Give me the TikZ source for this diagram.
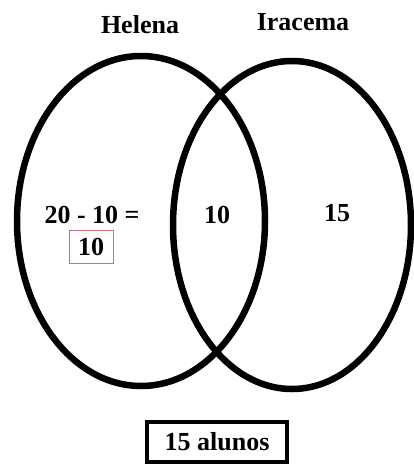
\documentclass[tikz,border=0pt]{standalone}
\usepackage{fontspec}
\setmainfont{Liberation Serif}
\usetikzlibrary{shapes.geometric}
\definecolor{boxred}{RGB}{205,110,120}
\begin{document}
\begin{tikzpicture}[x=1pt,y=-1pt,
  venn/.style={draw=black,line width=6.5pt,ellipse,inner sep=0pt,outer sep=0pt},
  lbl/.style={font=\fontsize{26}{29}\selectfont\bfseries,inner sep=0pt},
  redbox/.style={lbl,draw=boxred,line width=0.8pt,minimum width=44pt,minimum height=33pt},
  totbox/.style={lbl,draw=black,line width=3.2pt,minimum width=140pt,minimum height=40pt}]
\fill[white] (0,0) rectangle (414,466);
\useasboundingbox (0,0) rectangle (414,466);
\node[venn,minimum width=248pt,minimum height=330pt] (helena) at (141,221) {};
\node[venn,minimum width=238pt,minimum height=328pt] (iracema) at (292,225) {};
\node[lbl] (hname) at (140,25) {Helena};
\node[lbl] (iname) at (303,22) {Iracema};
\node[lbl] (calc) at (92,215) {20 - 10 =};
\node[redbox] (res) at (91,247) {10};
\node[lbl] (inter) at (217,215) {10};
\node[lbl] (only) at (337,213) {15};
\node[totbox] (total) at (217,442) {15 alunos};
\end{tikzpicture}
\end{document}
